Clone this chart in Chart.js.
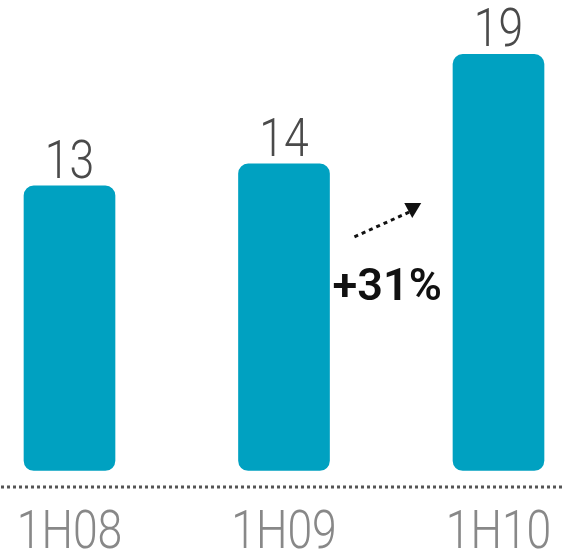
<!DOCTYPE html>
<html>
<head>
<meta charset="utf-8">
<script src="https://cdn.jsdelivr.net/npm/chart.js@4"></script>
<style>
  html, body { margin: 0; padding: 0; background: #fff; }
  #wrap { width: 563px; height: 552px; }
</style>
</head>
<body>
<div id="wrap"><canvas id="chart" width="563" height="552"></canvas></div>
<script>
const periods = ["1H08", "1H09", "1H10"];
const values = [13, 14, 19];
const growthLabel = "+31%";

const FONT = "Roboto, sans-serif";

// draws centred text squeezed horizontally to a narrow look
function narrowText(ctx, text, cx, baseY, sx) {
  ctx.save();
  ctx.translate(cx, baseY);
  ctx.scale(sx, 1);
  ctx.textAlign = "center";
  ctx.textBaseline = "alphabetic";
  ctx.fillText(text, 0, 0);
  ctx.restore();
}

const overlay = {
  id: "overlay",
  afterDraw(chart) {
    const ctx = chart.ctx;
    const x = chart.scales.x;
    const y = chart.scales.y;
    const area = chart.chartArea;

    ctx.save();
    // dotted baseline
    ctx.fillStyle = "#555";
    const lineY = area.bottom + 15;
    for (let px = 1; px < chart.width; px += 6) {
      ctx.fillRect(px, lineY, 3, 3);
    }

    // category labels
    ctx.font = "300 53px " + FONT;
    ctx.fillStyle = "#888888";
    periods.forEach((p, i) => {
      narrowText(ctx, p, x.getPixelForValue(i), 548, 0.84);
    });

    // value labels
    ctx.fillStyle = "#4a4a4a";
    values.forEach((v, i) => {
      narrowText(ctx, String(v), x.getPixelForValue(i), y.getPixelForValue(v) - 8, 0.84);
    });

    // growth annotation between 2nd and 3rd bars
    const mid = (x.getPixelForValue(1) + x.getPixelForValue(2)) / 2;
    ctx.font = "600 45px " + FONT;
    ctx.fillStyle = "#111";
    narrowText(ctx, growthLabel, mid - 4, 300, 1.0);

    // dotted arrow
    const x0 = mid - 35, y0 = 236, x1 = mid + 16, y1 = 213;
    const n = 8;
    for (let k = 0; k < n; k++) {
      const t = k / (n - 1);
      ctx.save();
      ctx.translate(x0 + (x1 - x0) * t, y0 + (y1 - y0) * t);
      ctx.rotate(Math.atan2(y1 - y0, x1 - x0));
      ctx.fillRect(-2, -1.5, 4, 3);
      ctx.restore();
    }
    ctx.beginPath();
    ctx.moveTo(mid + 13, 203);
    ctx.lineTo(mid + 30, 203);
    ctx.lineTo(mid + 21, 218);
    ctx.closePath();
    ctx.fill();
    ctx.restore();
  }
};

new Chart(document.getElementById("chart").getContext("2d"), {
  type: "bar",
  data: {
    labels: periods,
    datasets: [{
      data: values,
      backgroundColor: "#00a1c1",
      borderRadius: 10,
      borderSkipped: false,
      barThickness: 91,
      clip: false
    }]
  },
  options: {
    responsive: false,
    animation: false,
    layout: { padding: { left: 69.5, right: 64.5, top: 32.5, bottom: 81.5 } },
    plugins: { legend: { display: false }, tooltip: { enabled: false } },
    scales: {
      x: { offset: false, display: false, grid: { display: false } },
      y: { display: false, min: 0, max: 20, grid: { display: false } }
    }
  },
  plugins: [overlay]
});
</script>
</body>
</html>
